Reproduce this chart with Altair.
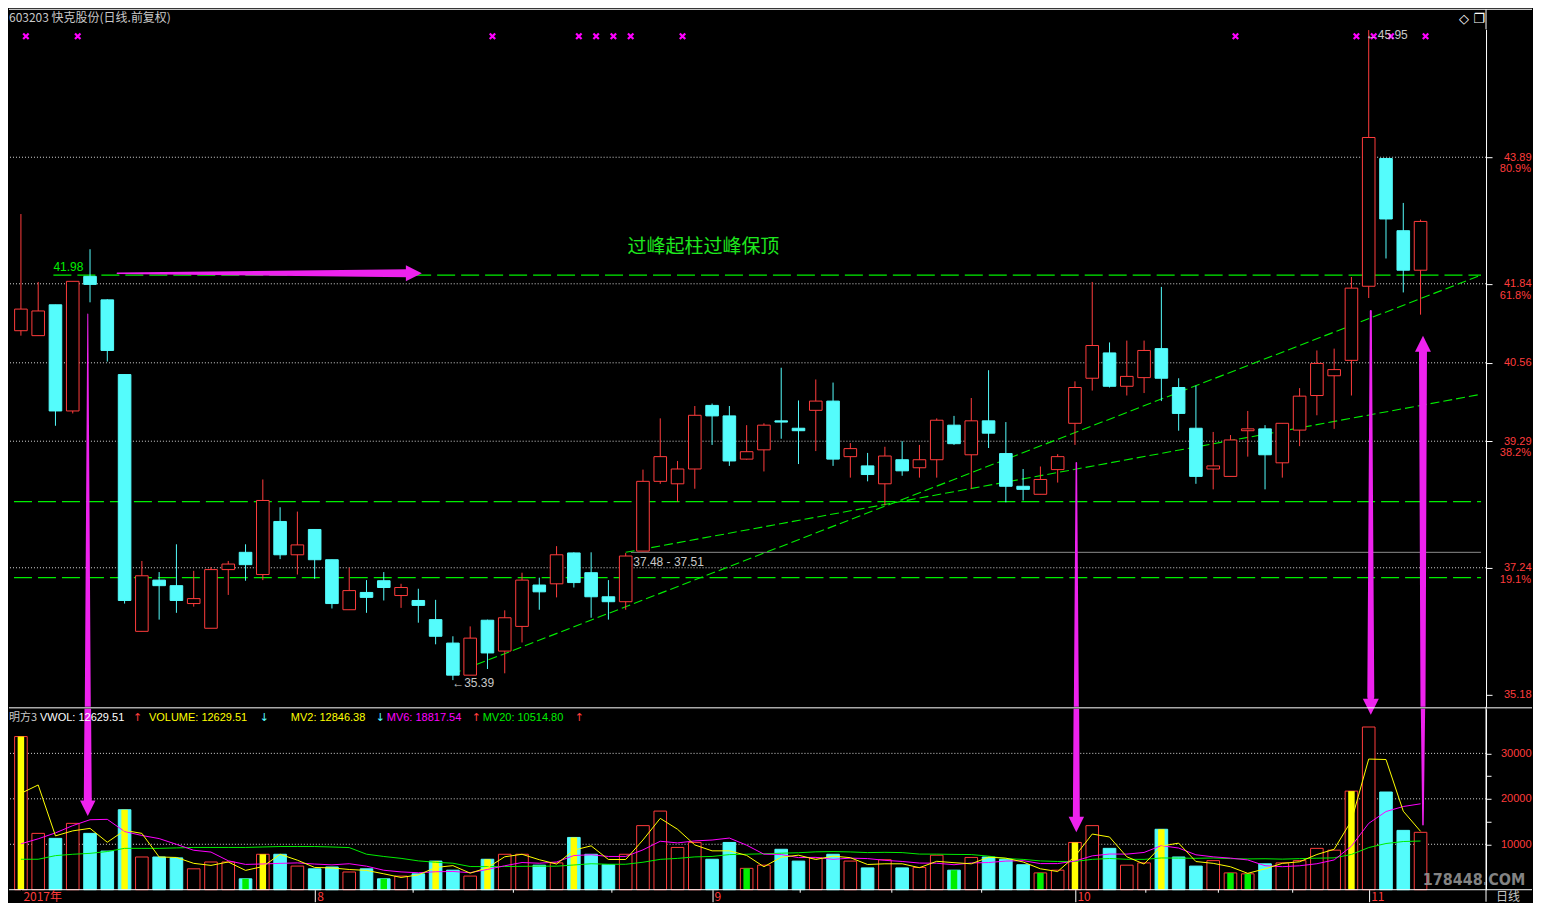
import altair as alt
import numpy as np
import pandas as pd

# ---------------- data (603203, daily, Jul-Nov 2017) ----------------
opens = [41.08, 41.00, 41.50, 39.78, 41.96, 41.58, 40.37, 36.21, 37.04, 36.95,
         36.66, 36.26, 37.21, 37.49, 37.13, 37.99, 37.45, 37.86, 37.37, 36.56,
         36.84, 37.03, 36.79, 36.71, 36.40, 36.02, 35.50, 36.39, 35.89, 36.29,
         36.96, 36.98, 37.48, 37.16, 36.77, 36.69, 37.51, 38.64, 38.60, 38.84,
         39.87, 39.70, 39.00, 39.15, 39.62, 39.50, 39.79, 39.94, 39.04, 38.89,
         38.60, 38.99, 38.86, 38.99, 39.55, 39.07, 39.62, 39.09, 38.56, 38.43,
         38.83, 39.58, 40.31, 40.72, 40.18, 40.32, 40.79, 40.16, 39.50, 38.84,
         38.72, 39.46, 39.49, 38.94, 39.47, 40.03, 40.35, 40.60, 41.80, 43.87,
         42.70, 42.06]
closes = [41.43, 41.40, 39.78, 41.88, 41.83, 40.76, 36.71, 37.11, 36.95, 36.71,
          36.74, 37.21, 37.30, 37.29, 38.33, 37.45, 37.61, 37.37, 36.66, 36.87,
          36.76, 36.92, 36.92, 36.63, 36.13, 35.50, 36.10, 35.86, 36.43, 37.04,
          36.85, 37.45, 37.00, 36.77, 36.69, 37.43, 38.64, 39.04, 38.84, 39.71,
          39.70, 38.97, 39.12, 39.55, 39.60, 39.46, 39.94, 39.00, 39.17, 38.75,
          39.05, 38.81, 38.99, 39.63, 39.25, 39.62, 39.42, 38.56, 38.51, 38.67,
          39.04, 40.16, 40.84, 40.18, 40.34, 40.76, 40.31, 39.74, 38.72, 38.89,
          39.31, 39.49, 39.07, 39.58, 40.02, 40.55, 40.45, 41.77, 44.21, 42.89,
          42.06, 42.85]
highs = [42.97, 41.87, 41.50, 41.88, 42.40, 41.59, 40.37, 37.35, 37.17, 37.62,
         37.19, 37.25, 37.35, 37.62, 38.67, 38.22, 38.15, 37.86, 37.37, 37.24,
         37.04, 37.17, 36.98, 36.90, 36.72, 36.13, 36.29, 36.40, 36.55, 37.16,
         37.08, 37.59, 37.49, 37.49, 37.04, 37.48, 38.83, 39.66, 38.97, 39.86,
         39.90, 39.86, 39.55, 39.58, 40.48, 39.95, 40.29, 40.24, 39.26, 39.10,
         39.20, 39.29, 39.23, 39.66, 39.70, 39.99, 40.44, 39.60, 38.84, 38.88,
         39.08, 40.26, 41.87, 40.89, 40.92, 40.92, 41.79, 40.31, 40.19, 39.44,
         39.39, 39.78, 39.55, 39.58, 40.15, 40.76, 40.79, 41.95, 45.95, 43.87,
         43.15, 42.88]
lows = [41.00, 41.00, 39.54, 39.74, 41.54, 40.58, 36.66, 36.21, 36.40, 36.51,
        36.61, 36.26, 36.80, 37.03, 37.04, 37.38, 37.13, 37.06, 36.58, 36.56,
        36.51, 36.71, 36.59, 36.35, 36.00, 35.42, 35.50, 35.60, 35.53, 36.03,
        36.56, 36.76, 36.92, 36.43, 36.40, 36.56, 37.51, 38.60, 38.31, 38.52,
        39.23, 38.89, 38.99, 38.80, 39.33, 38.92, 39.13, 38.89, 38.70, 38.64,
        38.25, 38.73, 38.70, 38.70, 39.23, 38.52, 39.18, 38.30, 38.33, 38.43,
        38.62, 39.23, 40.11, 40.16, 40.03, 40.07, 39.94, 39.46, 38.60, 38.51,
        38.72, 39.04, 38.51, 38.70, 39.21, 39.71, 39.49, 40.03, 41.61, 42.25,
        41.70, 41.34]
volumes = [33700, 12400, 11300, 14600, 12400, 8500, 17600, 7200, 7200, 7000,
           4600, 6100, 6100, 2400, 7800, 7800, 5200, 4600, 5000, 3900,
           4600, 2400, 3000, 3500, 6300, 4300, 3000, 6700, 7800, 7800,
           5400, 5900, 11500, 7800, 5500, 7800, 14100, 17300, 9300, 10400,
           6700, 10400, 4700, 5400, 8900, 6300, 7000, 7800, 6300, 4800,
           6600, 4800, 4900, 7600, 4300, 7100, 7200, 6700, 5500, 3700,
           4300, 10400, 14100, 9100, 5400, 5900, 13300, 7200, 5200, 6400,
           3700, 3500, 5700, 5900, 6400, 9100, 8700, 21700, 35800, 21500,
           13060, 12630]

# moving-average values of the first days (their windows start before the visible range)
mv2_seed = [21200]
mv6_seed = [10100, 11200, 12500, 14100, 15400]
mv20_seed = [6700, 6700, 7500, 7800, 8000, 8400, 9100, 9100, 9100, 9200,
             9300, 9300, 9300, 9300, 9400, 9500, 9500, 9500, 9400]

yellow_bars = [0, 6, 14, 24, 27, 32, 61, 66, 77]
green_bars = [13, 21, 42, 54, 59, 70, 71]
signal_days = [0, 3, 27, 32, 33, 34, 35, 38, 70, 77, 78, 79, 81]

month_ticks = [0, 17, 40, 61, 78]
month_labels = ["2017年", "8", "9", "10", "11"]
week_ticks = [22.7, 28.5, 34.2, 45.1, 50.4, 55.6, 65.1, 69.3, 73.6]

price_ticks = [35.18, 37.24, 39.29, 40.56, 41.84, 43.89]
price_grid = [37.24, 39.29, 40.56, 41.84, 43.89]
pct_prices = [43.89, 41.84, 39.29, 37.24]
pct_labels = ["80.9%", "61.8%", "38.2%", "19.1%"]
vol_ticks = [10000, 15000, 20000, 25000, 30000]
vol_grid = [10000, 20000, 30000]

level_prices = [41.98, 38.31, 37.08]
level_start = [1.88, -0.4, -0.4]
gap_prices = [37.49]
gap_start = [35.3]
trend_x0 = [24.96, 35.0]
trend_p0 = [35.52, 37.49]
trend_x1 = [84.5, 84.5]
trend_p1 = [41.98, 40.05]

ann_x = [1.88, 35.44, 24.96, 77.83]
ann_p = [42.12, 37.33, 35.37, 45.87]
ann_text = ["41.98", "37.48 - 37.51", "←35.39", "←45.95"]
note_x = [39.5]
note_p = [42.44]
note_text = ["过峰起柱过峰保顶"]

legend_text = ["VWOL: 12629.51", "↑", "VOLUME: 12629.51", "↓", "MV2: 12846.38", "↓",
               "MV6: 18817.54", "↑", "MV20: 10514.80", "↑"]

# magenta arrows: tapered shafts (trails) and triangular heads
shaft_p = pd.DataFrame({
    "aid": ["h", "h", "a2", "a2", "a3", "a3", "a4", "a4", "a5", "a5"],
    "ord": [0, 1] * 5,
    "x": [5.58, 22.4, 3.87, 3.87, 61.08, 61.08, 78.12, 78.12, 81.14, 81.14],
    "y": [42.01, 42.01, 41.35, 34.987, 38.94, 34.987, 41.40, 35.15, 40.80, 34.987],
    "w": [1.5, 8, 1, 6, 1.5, 5, 2, 7, 8, 5],
})
head_p = pd.DataFrame({"x": [22.74, 78.12, 81.14], "y": [42.01, 34.987, 40.87],
                       "dir": ["right", "down", "up"]})
shaft_v = pd.DataFrame({
    "aid": ["a2", "a2", "a3", "a3", "a5", "a5"],
    "ord": [0, 1] * 3,
    "x": [3.87, 3.87, 61.08, 61.08, 81.14, 81.14],
    "y": [41000, 19300, 41000, 15600, 41000, 14300],
    "w": [6.5, 8, 5.5, 7, 4.5, 1.5],
})
head_v = pd.DataFrame({"x": [3.87, 61.08], "y": [17950, 14350], "dir": ["down", "down"]})

# ---------------- styling / layout ----------------
RED = "#ff3c3c"
CYAN = "#54fcfc"
YEL = "#ffff00"
MAG = "#ff00ff"
ARW = "#ee22ee"
GRN = "#00ee00"
GRAY = "#c8c8c8"
NUMFONT = "Liberation Sans, DejaVu Sans"
CJK = "Noto Sans CJK SC"
TRI = {"down": "M-1,-1L1,-1L0,1Z", "up": "M-1,1L1,1L0,-1Z", "right": "M-1,-1L-1,1L1,0Z"}

W, H1, H2 = 1478, 678, 181

n = len(opens)
vol = pd.Series(volumes, dtype=float)
mv2 = vol.rolling(2).mean().tolist()
mv6 = vol.rolling(6).mean().tolist()
mv20 = vol.rolling(20).mean().tolist()
mv2[:len(mv2_seed)] = mv2_seed
mv6[:len(mv6_seed)] = mv6_seed
mv20[:len(mv20_seed)] = mv20_seed

df = pd.DataFrame({"idx": list(range(n)), "open": opens, "close": closes, "high": highs,
                   "low": lows, "vol": volumes, "mv2": mv2, "mv6": mv6, "mv20": mv20})
up = df["close"] >= df["open"]
df["col"] = np.where(up, RED, CYAN)
df["fillc"] = np.where(up, "#000000", CYAN)
stripe = [""] * n
for i in yellow_bars:
    stripe[i] = YEL
for i in green_bars:
    stripe[i] = GRN
df["stripe"] = stripe
sdf = df[df["stripe"] != ""]

one = pd.DataFrame({"k": [0]})

xs = alt.Scale(domain=[-0.4, 84.5], nice=False, zero=False)
ps = alt.Scale(domain=[34.987, 45.963], nice=False, zero=False)
vs = alt.Scale(domain=[0, 39800], nice=False)

price_axis = alt.Axis(orient="right", values=price_ticks, format=".2f", labelColor=RED,
                      labelFont=NUMFONT, labelFontSize=11, labelAlign="right",
                      labelBaseline="middle", labelPadding=39, tickColor="#ffffff",
                      tickSize=6, domainColor="#ffffff", grid=False, title=None,
                      labelOverlap=False, labelBound=False, labelFlush=False, zindex=1)

vol_axis = alt.Axis(orient="right", values=vol_ticks, format="d",
                    labelExpr="datum.value % 10000 == 0 ? datum.label : ''",
                    labelColor=RED, labelFont=NUMFONT, labelFontSize=11, labelAlign="right",
                    labelBaseline="middle", labelPadding=40, tickColor="#ffffff", tickSize=5,
                    domainColor="#ffffff", grid=False, title=None, labelOverlap=False,
                    labelBound=False, labelFlush=False, zindex=1)

expr = "''"
for t, l in zip(reversed(month_ticks), reversed(month_labels)):
    expr = f"datum.value == {t} ? '{l}' : ({expr})"
date_axis = alt.Axis(values=month_ticks, labelExpr=expr, labelColor=RED, labelFont=CJK,
                     labelFontSize=12, labelAlign="left", labelOffset=2, labelPadding=-10,
                     labelBaseline="top",
                     tickColor={"condition": {"test": "datum.value == 0", "value": "#000000"},
                                "value": "#ffffff"},
                     tickSize=12, domain=False, grid=False, title=None, labelFlush=False,
                     labelOverlap=False, labelBound=False, zindex=1)


def PX(f="idx"):
    return alt.X(f"{f}:Q", scale=xs, axis=None)


def VX(f="idx"):
    return alt.X(f"{f}:Q", scale=xs, axis=date_axis)


def PY(f):
    return alt.Y(f"{f}:Q", scale=ps, axis=price_axis)


def VY(f):
    return alt.Y(f"{f}:Q", scale=vs, axis=vol_axis)


# ---------------- price panel ----------------
p_grid = alt.Chart(pd.DataFrame({"p": price_grid})).mark_rule(
    color="#d8d8d8", strokeDash=[1, 2], strokeWidth=1).encode(y=PY("p"))

p_levels = alt.Chart(pd.DataFrame({"p": level_prices, "x0": level_start,
                                   "x1": [84.5] * len(level_prices)})).mark_rule(
    color=GRN, strokeDash=[18, 6], strokeWidth=1.3).encode(x=PX("x0"), x2="x1", y=PY("p"))

p_gap = alt.Chart(pd.DataFrame({"p": gap_prices, "x0": gap_start, "x1": [84.5]})).mark_rule(
    color="#8c8c8c", strokeWidth=1).encode(x=PX("x0"), x2="x1", y=PY("p"))

p_trend = alt.Chart(pd.DataFrame({"x0": trend_x0, "p0": trend_p0, "x1": trend_x1,
                                  "p1": trend_p1})).mark_rule(
    color=GRN, strokeDash=[9, 4], strokeWidth=1.1).encode(
    x=PX("x0"), y=PY("p0"), x2="x1", y2="p1")

p_wick = alt.Chart(df).mark_rule(strokeWidth=1).encode(
    x=PX(), y=PY("low"), y2="high", color=alt.Color("col:N", scale=None))

p_body = alt.Chart(df).mark_bar(size=12.6, strokeWidth=1).encode(
    x=PX(), y=PY("open"), y2="close",
    fill=alt.Fill("fillc:N", scale=None), stroke=alt.Stroke("col:N", scale=None))

p_mark = alt.Chart(pd.DataFrame({"i": signal_days})).mark_point(
    shape="M-1,-1L1,1M1,-1L-1,1", filled=False, strokeWidth=2.2, size=30, color=MAG,
    opacity=1, xOffset=5).encode(x=PX("i"), y=alt.value(7))

p_ann = alt.Chart(pd.DataFrame({"x": ann_x, "p": ann_p, "t": ann_text,
                                "c": [GRN, GRAY, GRAY, GRAY]})).mark_text(
    align="left", baseline="middle", font=NUMFONT, fontSize=12).encode(
    x=PX("x"), y=PY("p"), text="t:N", color=alt.Color("c:N", scale=None))

p_note = alt.Chart(pd.DataFrame({"x": note_x, "p": note_p, "t": note_text})).mark_text(
    align="center", baseline="middle", font=CJK, fontSize=19, color="#1ee81e").encode(
    x=PX("x"), y=PY("p"), text="t:N")

p_shaft = alt.Chart(shaft_p).mark_trail(clip=True, color=ARW).encode(
    x=PX("x"), y=PY("y"), size=alt.Size("w:Q", scale=None), detail="aid:N", order="ord:Q")
p_heads = [alt.Chart(head_p[head_p["dir"] == d]).mark_point(
    shape=TRI[d], filled=True, size=256, color=ARW, opacity=1).encode(x=PX("x"), y=PY("y"))
    for d in ["right", "down", "up"]]

p_pct = alt.Chart(pd.DataFrame({"p": pct_prices, "t": pct_labels})).mark_text(
    align="right", baseline="middle", dy=12, font=NUMFONT, fontSize=11, color=RED).encode(
    x=alt.value(W + 45), y=PY("p"), text="t:N")

p_title = alt.Chart(one).mark_text(align="left", baseline="middle", font=CJK, fontSize=12,
                                   color=GRAY).encode(
    x=alt.value(0), y=alt.value(-11), text=alt.value("603203 快克股份(日线.前复权)"))
p_icons = alt.Chart(one).mark_text(align="left", baseline="middle", font="DejaVu Sans",
                                   fontSize=13, color="#ffffff").encode(
    x=alt.value(W - 27), y=alt.value(-10), text=alt.value("◇ ❐"))
p_top = alt.Chart(one).mark_rule(color="#ffffff", strokeWidth=1).encode(
    x=alt.value(0), x2=alt.value(W + 46), y=alt.value(-20))
p_rv = alt.Chart(one).mark_rule(color="#ffffff", strokeWidth=1).encode(
    x=alt.value(W), y=alt.value(-20), y2=alt.value(0))

price = alt.layer(p_grid, p_levels, p_gap, p_trend, p_wick, p_body, p_mark, p_ann, p_note,
                  p_shaft, *p_heads, p_pct, p_title, p_icons, p_top, p_rv).properties(
    width=W, height=H1)

# ---------------- volume panel ----------------
v_grid = alt.Chart(pd.DataFrame({"v": vol_grid})).mark_rule(
    color="#d8d8d8", strokeDash=[1, 2], strokeWidth=1).encode(y=VY("v"))

v_bar = alt.Chart(df).mark_bar(size=12.6, strokeWidth=1).encode(
    x=VX(), y=VY("vol"),
    fill=alt.Fill("fillc:N", scale=None), stroke=alt.Stroke("col:N", scale=None))

v_stripe = alt.Chart(sdf).mark_bar(size=6.5).encode(
    x=VX(), y=VY("vol"), fill=alt.Fill("stripe:N", scale=None))

v_lines = [alt.Chart(df).mark_line(color=c, strokeWidth=1).encode(x=VX(), y=VY(f))
           for f, c in [("mv20", GRN), ("mv6", MAG), ("mv2", YEL)]]

v_shaft = alt.Chart(shaft_v).mark_trail(clip=True, color=ARW).encode(
    x=VX("x"), y=VY("y"), size=alt.Size("w:Q", scale=None), detail="aid:N", order="ord:Q")
v_head = alt.Chart(head_v).mark_point(shape=TRI["down"], filled=True, size=240, color=ARW,
                                      opacity=1).encode(x=VX("x"), y=VY("y"))

v_week = alt.Chart(pd.DataFrame({"w": week_ticks})).mark_rule(color="#ffffff").encode(
    x=VX("w"), y=alt.value(H2), y2=alt.value(H2 + 3))

v_sep = alt.Chart(one).mark_rule(color="#ffffff").encode(
    x=alt.value(0), x2=alt.value(W + 46), y=alt.value(-1))
v_bot = alt.Chart(one).mark_rule(color="#ffffff").encode(
    x=alt.value(0), x2=alt.value(W + 46), y=alt.value(H2))
v_rv = alt.Chart(one).mark_rule(color="#ffffff").encode(
    x=alt.value(W), y=alt.value(-2), y2=alt.value(H2 + 12))

legend_x = [31, 124, 140, 251, 282, 367, 378, 463, 474, 566]
legend_c = ["#ffffff", RED, YEL, CYAN, YEL, CYAN, MAG, RED, GRN, RED]
v_leg = [alt.Chart(one).mark_text(align="left", baseline="middle", font=CJK, fontSize=11,
                                  color=GRAY).encode(
    x=alt.value(0), y=alt.value(9), text=alt.value("明方3"))]
for t, xx, c in zip(legend_text, legend_x, legend_c):
    fnt = "DejaVu Sans" if t in ("↑", "↓") else NUMFONT
    v_leg.append(alt.Chart(one).mark_text(align="left", baseline="middle", font=fnt,
                                          fontSize=11, color=c).encode(
        x=alt.value(xx), y=alt.value(9), text=alt.value(t)))

v_day = alt.Chart(one).mark_text(align="left", baseline="middle", font=CJK, fontSize=12,
                                 color=GRAY).encode(
    x=alt.value(W + 10), y=alt.value(H2 + 7), text=alt.value("日线"))
v_wm = alt.Chart(one).mark_text(align="center", baseline="middle",
                                font="DejaVu Sans Condensed, DejaVu Sans",
                                fontSize=16, fontWeight="bold", color="#9a9a9a",
                                opacity=0.85).encode(
    x=alt.value(1466), y=alt.value(171), text=alt.value("178448.COM"))

volume = alt.layer(v_grid, v_bar, v_stripe, *v_lines, v_shaft, v_head, v_week, v_sep, v_bot,
                   v_rv, *v_leg, v_day, v_wm).properties(width=W, height=H2)

chart = alt.vconcat(price, volume, spacing=2, bounds="flush").properties(
    padding=0, background="#000000").configure_view(strokeWidth=0)

chart.save("out.html", embed_options={"renderer": "svg", "actions": False})
